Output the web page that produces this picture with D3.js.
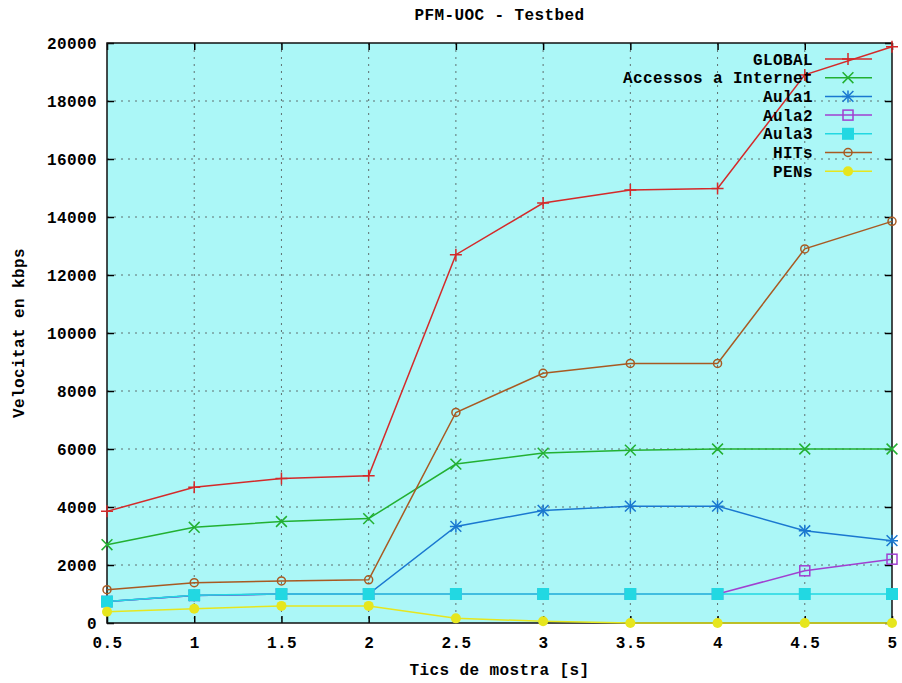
<!DOCTYPE html>
<html>
<head>
<meta charset="utf-8">
<script src="https://cdn.jsdelivr.net/npm/d3@7"></script>
<style>
  body { margin: 0; background: #fff; }
  text { font-family: "Liberation Mono", "DejaVu Sans Mono", monospace; font-weight: bold; font-size: 16px; fill: #000; letter-spacing: 0.4px; }
</style>
</head>
<body>
<div id="chart"></div>
<script>
const ticsX = [0.5, 1, 1.5, 2, 2.5, 3, 3.5, 4, 4.5, 5];
const global = [3850, 4680, 4980, 5080, 12700, 14480, 14930, 14980, 18900, 19870];
const internet = [2700, 3300, 3500, 3600, 5480, 5860, 5960, 6000, 6000, 6000];
const aula1 = [740, 950, 1000, 1000, 3330, 3880, 4030, 4030, 3180, 2840];
const aula2 = [740, 950, 1000, 1000, 1000, 1000, 1000, 1000, 1800, 2200];
const aula3 = [740, 960, 1000, 1000, 1000, 1000, 1000, 1000, 1000, 1000];
const hits = [1150, 1390, 1450, 1490, 7260, 8610, 8950, 8950, 12900, 13850];
const pens = [390, 490, 590, 590, 160, 60, 0, 0, 0, 0];
const yTicks = [0, 2000, 4000, 6000, 8000, 10000, 12000, 14000, 16000, 18000, 20000];

const series = [
  {name: "GLOBAL", values: global, color: "#d42a2a", mark: "plus"},
  {name: "Accessos a Internet", values: internet, color: "#22b032", mark: "cross"},
  {name: "Aula1", values: aula1, color: "#1a78d0", mark: "star"},
  {name: "Aula2", values: aula2, color: "#a040d0", mark: "box"},
  {name: "Aula3", values: aula3, color: "#22d8e2", mark: "fbox"},
  {name: "HITs", values: hits, color: "#a85a22", mark: "circle"},
  {name: "PENs", values: pens, color: "#e6e61e", mark: "fcircle"}
];

const width = 902, height = 683;
const marginTop = 43, marginRight = 10, marginBottom = 60, marginLeft = 107;
const innerW = width - marginLeft - marginRight;
const innerH = height - marginTop - marginBottom;

const svg = d3.select("#chart").append("svg")
    .attr("width", width)
    .attr("height", height);

const x = d3.scaleLinear().domain([0.5, 5]).range([marginLeft, marginLeft + innerW]);
const y = d3.scaleLinear().domain([0, 20000]).range([marginTop + innerH, marginTop]);

// background
svg.append("rect")
    .attr("x", marginLeft).attr("y", marginTop)
    .attr("width", innerW).attr("height", innerH)
    .attr("fill", "#abf7f7");

// grid
const grid = svg.append("g").attr("stroke", "#5f7070").attr("stroke-width", 1).attr("stroke-dasharray", "2,5");
grid.selectAll("line.gx").data(ticsX.slice(1, -1)).join("line")
    .attr("x1", d => x(d)).attr("x2", d => x(d))
    .attr("y1", marginTop).attr("y2", marginTop + innerH);
grid.selectAll("line.gy").data(yTicks.slice(1, -1)).join("line")
    .attr("y1", d => y(d)).attr("y2", d => y(d))
    .attr("x1", marginLeft).attr("x2", marginLeft + innerW);

// axes (ticks inward, mirrored)
const tl = 7;
svg.append("g")
    .attr("transform", `translate(0,${marginTop + innerH})`)
    .call(d3.axisBottom(x).tickValues(ticsX).tickSize(-tl).tickPadding(14).tickFormat(d3.format("")))
    .call(g => g.select(".domain").remove());
svg.append("g")
    .attr("transform", `translate(0,${marginTop})`)
    .call(d3.axisTop(x).tickValues(ticsX).tickSize(-tl).tickFormat(""))
    .call(g => g.select(".domain").remove());
svg.append("g")
    .attr("transform", `translate(${marginLeft},0)`)
    .call(d3.axisLeft(y).tickValues(yTicks).tickSize(-tl).tickPadding(10).tickFormat(d3.format("d")))
    .call(g => g.select(".domain").remove());
svg.append("g")
    .attr("transform", `translate(${marginLeft + innerW},0)`)
    .call(d3.axisRight(y).tickValues(yTicks).tickSize(-tl).tickFormat(""))
    .call(g => g.select(".domain").remove());
svg.selectAll(".tick line").attr("stroke", "#000").attr("stroke-width", 1.5);
svg.selectAll(".tick text").style("font-size", "16px").style("font-family", "Liberation Mono, monospace").style("font-weight", "bold");

// frame
svg.append("rect")
    .attr("x", marginLeft).attr("y", marginTop)
    .attr("width", innerW).attr("height", innerH)
    .attr("fill", "none").attr("stroke", "#111").attr("stroke-width", 1.5);

// markers
function drawMark(g, type, cx, cy, color) {
  const s = 6;
  if (type === "plus" || type === "star") {
    g.append("path").attr("d", `M${cx - s},${cy}H${cx + s}M${cx},${cy - s}V${cy + s}`)
      .attr("stroke", color).attr("stroke-width", 1.5);
  }
  if (type === "cross" || type === "star") {
    const c = s * 0.9;
    g.append("path").attr("d", `M${cx - c},${cy - c}L${cx + c},${cy + c}M${cx - c},${cy + c}L${cx + c},${cy - c}`)
      .attr("stroke", color).attr("stroke-width", 1.5);
  }
  if (type === "box") {
    g.append("rect").attr("x", cx - 5).attr("y", cy - 5).attr("width", 10).attr("height", 10)
      .attr("fill", "none").attr("stroke", color).attr("stroke-width", 1.5);
  }
  if (type === "fbox") {
    g.append("rect").attr("x", cx - 6).attr("y", cy - 6).attr("width", 12).attr("height", 12)
      .attr("fill", color);
  }
  if (type === "circle") {
    g.append("circle").attr("cx", cx).attr("cy", cy).attr("r", 4)
      .attr("fill", "none").attr("stroke", color).attr("stroke-width", 1.5);
  }
  if (type === "fcircle") {
    g.append("circle").attr("cx", cx).attr("cy", cy).attr("r", 5).attr("fill", color);
  }
}

const line = d3.line().x((d, i) => x(ticsX[i])).y(d => y(d));

const plot = svg.append("g");
series.forEach(s => {
  const g = plot.append("g");
  g.append("path").datum(s.values).attr("d", line)
    .attr("fill", "none").attr("stroke", s.color).attr("stroke-width", 1.5);
  s.values.forEach((v, i) => drawMark(g, s.mark, x(ticsX[i]), y(v), s.color));
});

// legend
const leg = svg.append("g");
series.forEach((s, i) => {
  const ly = 59 + i * 18.7;
  leg.append("text").attr("x", 813).attr("y", ly).attr("dy", "0.35em")
    .attr("text-anchor", "end").text(s.name);
  leg.append("line").attr("x1", 825).attr("x2", 872).attr("y1", ly).attr("y2", ly)
    .attr("stroke", s.color).attr("stroke-width", 1.5);
  drawMark(leg, s.mark, 848, ly, s.color);
});

// titles
svg.append("text").attr("x", marginLeft + innerW / 2).attr("y", 20)
  .attr("text-anchor", "middle").text("PFM-UOC - Testbed");
svg.append("text").attr("x", marginLeft + innerW / 2).attr("y", 675)
  .attr("text-anchor", "middle").text("Tics de mostra [s]");
svg.append("text")
  .attr("transform", `translate(24,${marginTop + innerH / 2}) rotate(-90)`)
  .attr("text-anchor", "middle").text("Velocitat en kbps");
</script>
</body>
</html>
